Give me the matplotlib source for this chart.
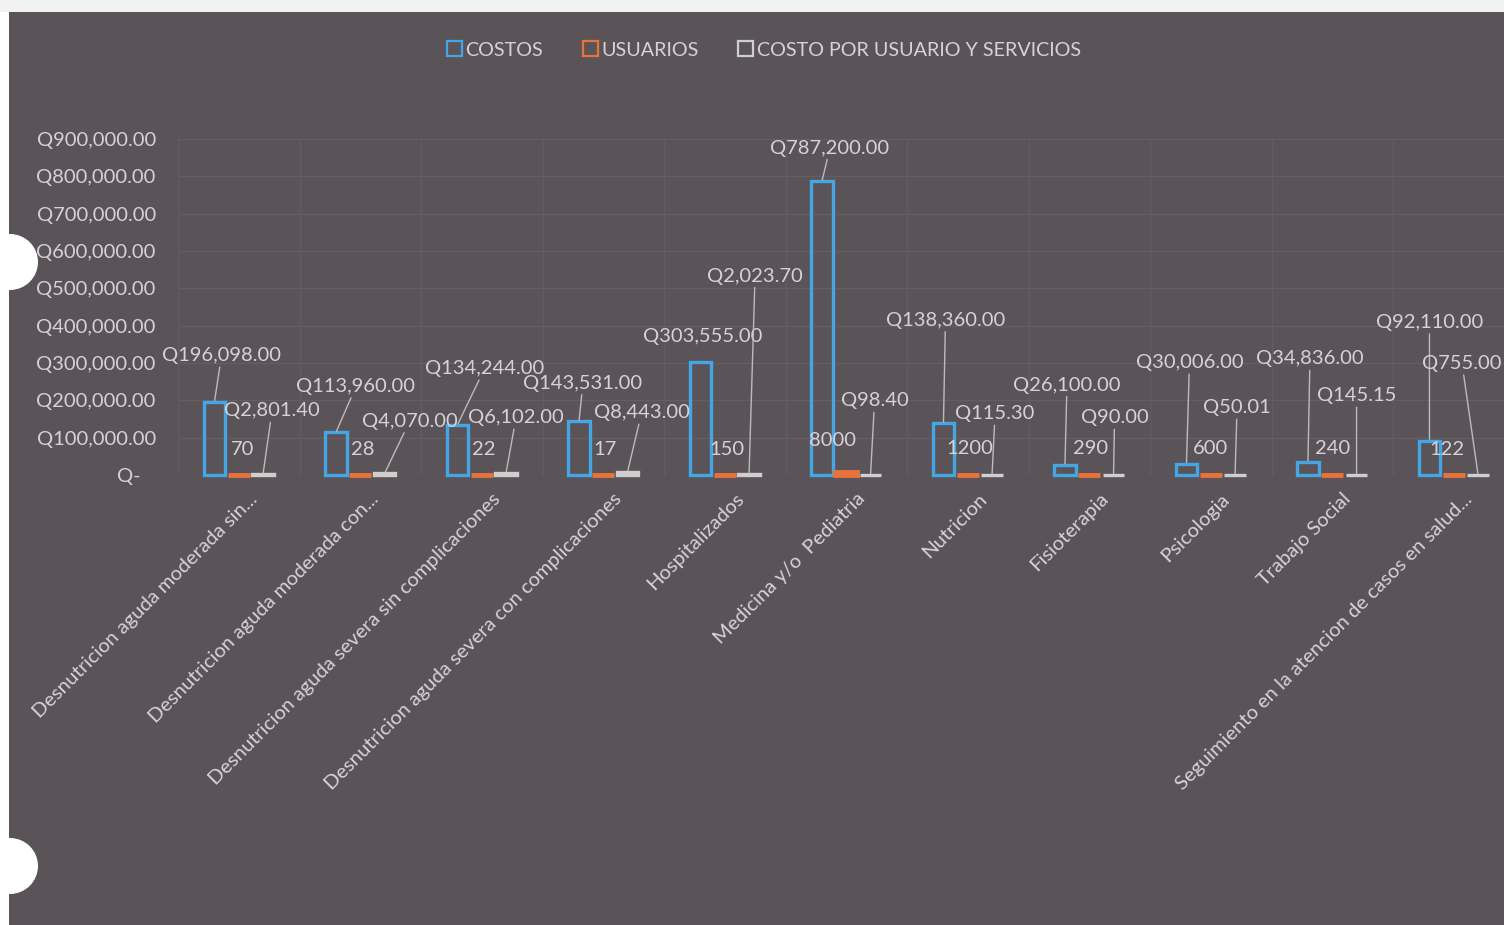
import matplotlib.pyplot as plt
import matplotlib.transforms as mtransforms
from matplotlib.patches import Rectangle, Circle
import numpy as np

categorias = [
    "Desnutricion aguda moderada sin...",
    "Desnutricion aguda moderada con...",
    "Desnutricion aguda severa sin complicaciones",
    "Desnutricion aguda severa con complicaciones",
    "Hospitalizados",
    "Medicina y/o  Pediatria",
    "Nutricion",
    "Fisioterapia",
    "Psicologia",
    "Trabajo Social",
    "Seguimiento en la atencion de casos en salud...",
]
costos = [196098.00, 113960.00, 134244.00, 143531.00, 303555.00, 787200.00,
          138360.00, 26100.00, 30006.00, 34836.00, 92110.00]
usuarios = [70, 28, 22, 17, 150, 8000, 1200, 290, 600, 240, 122]
costo_usuario = [2801.40, 4070.00, 6102.00, 8443.00, 2023.70, 98.40,
                 115.30, 90.00, 50.01, 145.15, 755.00]
y_ticks = [0, 100000, 200000, 300000, 400000, 500000, 600000, 700000, 800000, 900000]

# label offsets in pixels (dx, dy up) from the top of each bar
off_costos = [(7, 46), (20, 46), (27, 56), (4, 38), (2, 25), (8, 33),
              (2, 103), (2, 80), (3, 101), (2, 103), (0, 118)]
off_usuarios = [(4, 25), (3, 25), (2, 25), (2, 25), (2, 25), (-14, 32),
                (2, 26), (1, 26), (0, 26), (0, 26), (-7, 25)]
off_cpu = [(9, 63), (25, 52), (10, 55), (14, 59), (6, 198), (4, 74),
           (3, 61), (1, 57), (2, 67), (0, 79), (-16, 111)]

BG = "#5a5458"
TXT = "#d6d2d6"
BLUE = "#45a6e6"
ORANGE = "#e8733a"
GRAY = "#cfcfcf"
FS = 14.5

plt.rcParams["font.family"] = ["Lato", "DejaVu Sans"]

fig = plt.figure(figsize=(15.04, 9.25), dpi=100, facecolor=BG)
ax = fig.add_axes([178 / 1504, (925 - 475) / 925, 1336.5 / 1504, 336 / 925])
ax.set_facecolor(BG)

x = np.arange(len(categorias))
w = 0.2
b1 = ax.bar(x - w, costos, w * 0.9, facecolor="none", edgecolor=BLUE, linewidth=2.4,
            zorder=3, clip_on=False)
b2 = ax.bar(x, usuarios, w * 0.9, facecolor=ORANGE, edgecolor=ORANGE, linewidth=3.5,
            zorder=3, clip_on=False)
b3 = ax.bar(x + w, costo_usuario, w * 0.9, facecolor="none", edgecolor=GRAY, linewidth=2.4,
            zorder=3, clip_on=False)

ax.set_xlim(-0.5, len(categorias) - 0.5)
ax.set_ylim(0, 900000)
ax.set_yticks(y_ticks)
ax.set_yticklabels(["Q-   "] + [f"Q{v:,.2f}" for v in y_ticks[1:]])
ax.set_xticks(x)
ax.set_xticklabels(categorias, rotation=45, ha="right", rotation_mode="anchor")
ax.tick_params(axis="both", length=0, colors=TXT, labelsize=FS)
ax.tick_params(axis="y", pad=16)
ax.tick_params(axis="x", pad=8)
shift = mtransforms.ScaledTranslation(10 / 100, -4 / 100, fig.dpi_scale_trans)
for lab in ax.get_xticklabels():
    lab.set_transform(lab.get_transform() + shift)
for s in ax.spines.values():
    s.set_visible(False)
ax.set_xticks(np.arange(-0.5, len(categorias)), minor=True)
ax.grid(axis="y", color="#645e63", linewidth=1, zorder=0)
ax.grid(axis="x", which="minor", color="#625c62", linewidth=1, zorder=0)
ax.tick_params(axis="x", which="minor", length=0)


def etiquetas(bars, vals, offs, fmt, leaders=True):
    for rect, v, (dx, dy) in zip(bars, vals, offs):
        xc = rect.get_x() + rect.get_width() / 2
        props = None
        if leaders and dy > 30:
            props = dict(arrowstyle="-", color="#bdbabd", linewidth=1, shrinkA=0, shrinkB=1)
        ax.annotate(fmt(v), xy=(xc, v), xytext=(dx, dy), textcoords="offset pixels",
                    ha="center", va="center", color=TXT, fontsize=FS,
                    arrowprops=props, zorder=5)


etiquetas(b1, costos, off_costos, lambda v: f"Q{v:,.2f}")
etiquetas(b2, usuarios, off_usuarios, lambda v: f"{v}", leaders=False)
etiquetas(b3, costo_usuario, off_cpu, lambda v: f"Q{v:,.2f}")

handles = [Rectangle((0, 0), 1, 1, facecolor="none", edgecolor=c, linewidth=1.6)
           for c in (BLUE, ORANGE, GRAY)]
fig.legend(handles, ["COSTOS", "USUARIOS", "COSTO POR USUARIO Y SERVICIOS"],
           loc="center", bbox_to_anchor=(0.508, 0.946), ncol=3, frameon=False,
           handlelength=0.75, handleheight=0.75, handletextpad=0.2, columnspacing=2.0,
           labelcolor=TXT, prop={"size": 14.2})

# paper edge and punch holes of the scanned page
fig.patches.append(Rectangle((0, 0), 9 / 1504, 1, transform=fig.transFigure,
                             facecolor="white", edgecolor="none", zorder=10))
fig.patches.append(Rectangle((0, 1 - 12 / 925), 1, 12 / 925, transform=fig.transFigure,
                             facecolor="#f2f2f2", edgecolor="none", zorder=10))
for cy in (262, 866):
    fig.patches.append(Circle((10, 925 - cy), 28, transform=None,
                              facecolor="white", edgecolor="none", zorder=10))

fig.savefig("out.png", dpi=100, facecolor=BG)
